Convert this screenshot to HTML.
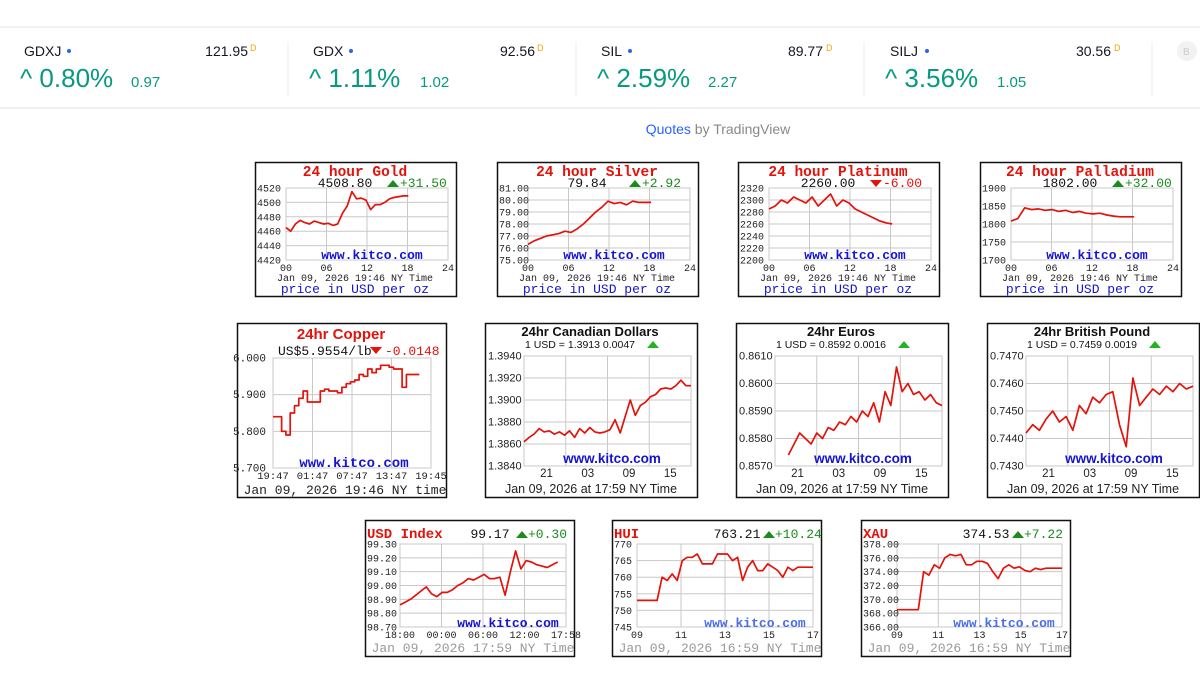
<!DOCTYPE html>
<html><head><meta charset="utf-8"><style>
html,body{margin:0;padding:0;background:#fff;width:1200px;height:675px;overflow:hidden}
svg{display:block}
</style></head><body>
<svg id="root" width="1200" height="675" viewBox="0 0 1200 675">
 <g font-family="Liberation Sans, sans-serif">
  <line x1="0" y1="27" x2="1200" y2="27" stroke="#e3e3e3"/>
  <line x1="0" y1="108" x2="1200" y2="108" stroke="#e3e3e3"/>
  <line x1="288" y1="42" x2="288" y2="96" stroke="#eee"/>
  <line x1="576" y1="42" x2="576" y2="96" stroke="#eee"/>
  <line x1="864" y1="42" x2="864" y2="96" stroke="#eee"/>
  <line x1="1152" y1="42" x2="1152" y2="96" stroke="#eee"/>
  <g><text x="24" y="56" font-size="14" fill="#131722">GDXJ</text><circle cx="69" cy="51" r="2" fill="#2962ff"/><text x="248" y="56" font-size="14" fill="#131722" text-anchor="end">121.95</text><text x="250" y="51" font-size="9" fill="#f7a600">D</text><text x="20" y="87" font-size="26" fill="#089981">^ 0.80%</text><text x="131" y="87" font-size="15" fill="#089981">0.97</text></g>
  <g><text x="313" y="56" font-size="14" fill="#131722">GDX</text><circle cx="351" cy="51" r="2" fill="#2962ff"/><text x="535" y="56" font-size="14" fill="#131722" text-anchor="end">92.56</text><text x="537" y="51" font-size="9" fill="#f7a600">D</text><text x="309" y="87" font-size="26" fill="#089981">^ 1.11%</text><text x="420" y="87" font-size="15" fill="#089981">1.02</text></g>
  <g><text x="601" y="56" font-size="14" fill="#131722">SIL</text><circle cx="630" cy="51" r="2" fill="#2962ff"/><text x="823" y="56" font-size="14" fill="#131722" text-anchor="end">89.77</text><text x="826" y="51" font-size="9" fill="#f7a600">D</text><text x="597" y="87" font-size="26" fill="#089981">^ 2.59%</text><text x="708" y="87" font-size="15" fill="#089981">2.27</text></g>
  <g><text x="890" y="56" font-size="14" fill="#131722">SILJ</text><circle cx="927" cy="51" r="2" fill="#2962ff"/><text x="1111" y="56" font-size="14" fill="#131722" text-anchor="end">30.56</text><text x="1114" y="51" font-size="9" fill="#f7a600">D</text><text x="885" y="87" font-size="26" fill="#089981">^ 3.56%</text><text x="997" y="87" font-size="15" fill="#089981">1.05</text></g>
  <circle cx="1187" cy="51" r="10" fill="#f2f2f2"/><text x="1183" y="55" font-size="10" fill="#ccc">B</text>
  <text x="718" y="134" font-size="14" text-anchor="middle"><tspan fill="#2962ff">Quotes</tspan><tspan fill="#888"> by TradingView</tspan></text>
 </g>
 <g id="charts"></g>
</svg>
<script>
const goldValues=[4465,4460,4470,4475,4472,4470,4474,4472,4470,4471,4468,4470,4485,4495,4515,4505,4506,4503,4490,4497,4497,4500,4505,4507,4508,4509,4509];
const silverValues=[76.3,76.6,76.8,77.0,77.1,77.2,77.4,77.3,77.6,78.0,78.5,79.0,79.4,79.9,79.7,79.8,79.6,79.9,79.8,79.8,79.8];
const platinumValues=[2285,2290,2300,2295,2305,2300,2295,2305,2290,2300,2310,2290,2300,2295,2285,2280,2275,2270,2265,2262,2260];
const palladiumValues=[1808,1815,1845,1840,1842,1838,1840,1835,1838,1832,1835,1830,1828,1830,1825,1822,1820,1820,1820];
const copperValues=[5.84,5.84,5.80,5.79,5.85,5.87,5.89,5.91,5.88,5.88,5.88,5.91,5.915,5.91,5.91,5.905,5.92,5.93,5.935,5.94,5.955,5.95,5.97,5.96,5.97,5.98,5.98,5.975,5.97,5.97,5.92,5.955,5.955,5.955,5.955];
const cadValues=[1.3862,1.3866,1.3869,1.3874,1.3871,1.3872,1.3869,1.3871,1.3868,1.3872,1.3866,1.3874,1.3870,1.3875,1.3871,1.3870,1.3871,1.3873,1.3882,1.3870,1.3885,1.3900,1.3886,1.3895,1.3898,1.3903,1.3905,1.3910,1.3911,1.3910,1.3913,1.3918,1.3913,1.3913];
const eurValues=[0.8574,0.8578,0.8582,0.8580,0.8578,0.8582,0.8580,0.8584,0.8583,0.8586,0.8585,0.8588,0.8586,0.8590,0.8588,0.8593,0.8586,0.8597,0.8592,0.8606,0.8597,0.8600,0.8596,0.8597,0.8594,0.8596,0.8593,0.8592];
const gbpValues=[0.7442,0.7445,0.7443,0.7447,0.7450,0.7446,0.7448,0.7443,0.7452,0.7449,0.7455,0.7453,0.7456,0.7457,0.7445,0.7437,0.7462,0.7452,0.7455,0.7458,0.7456,0.7459,0.7457,0.7460,0.7458,0.7459];
const usdValues=[98.86,98.88,98.90,98.93,98.96,98.99,98.94,98.92,98.95,98.95,98.97,99.00,99.02,99.05,99.04,99.06,99.08,99.05,99.05,99.06,98.93,99.10,99.25,99.12,99.18,99.17,99.15,99.14,99.13,99.15,99.17];
const huiValues=[753,753,753,753,753,760,759,761,759,765,766,766,767,764,764,764,767,767,767,765,766,759,763,765,762,762,764,763,762,760,763,762,763,763,763,763];
const xauValues=[368.5,368.5,368.5,368.5,368.5,374,373.5,375,374.5,376,376.5,376.3,376.5,375,375,375.5,375.5,375.2,374,373,374.5,375,374.5,374.7,374.2,374,374.5,374.3,374.5,374.5,374.5,374.5];
const goldTicks=[4420,4440,4460,4480,4500,4520];
const silverTicks=[75,76,77,78,79,80,81];
const platinumTicks=[2200,2220,2240,2260,2280,2300,2320];
const palladiumTicks=[1700,1750,1800,1850,1900];
const copperTicks=[5.7,5.8,5.9,6.0];
const cadTicks=[1.384,1.386,1.388,1.390,1.392,1.394];
const eurTicks=[0.857,0.858,0.859,0.860,0.861];
const gbpTicks=[0.743,0.744,0.745,0.746,0.747];
const usdTicks=[98.7,98.8,98.9,99.0,99.1,99.2,99.3];
const huiTicks=[745,750,755,760,765,770];
const xauTicks=[366,368,370,372,374,376,378];
const hourLabels=['00','06','12','18','24'];
const copperTimeLabels=['19:47','01:47','07:47','13:47','19:45'];
const fxHourLabels=['21','03','09','15'];
const usdTimeLabels=['18:00','00:00','06:00','12:00','17:58'];
const indexHourLabels=['09','11','13','15','17'];

const NS='http://www.w3.org/2000/svg';
const root=document.getElementById('charts');
function mk(parent,tag,attrs,text){const e=document.createElementNS(NS,tag);for(const k in attrs)e.setAttribute(k,attrs[k]);if(text!==undefined)e.textContent=text;parent.appendChild(e);return e;}
const MONO='Liberation Mono, monospace',SANS='Liberation Sans, sans-serif';

function chart(c){
  const g=mk(root,'g',{});
  
  
  const [bx,by,bw,bh]=c.box;const [l,t,r,b]=c.plot;
  mk(g,'rect',{x:bx+0.5,y:by+0.5,width:bw,height:bh,fill:'#fff',stroke:'#111','stroke-width':1.5});
  mk(g,'rect',{x:l,y:t,width:r-l,height:b-t,fill:'#fff',stroke:'#c8c8c8'});
  const ymin=c.ticks[0],ymax=c.ticks[c.ticks.length-1];
  const Y=v=>b-(v-ymin)/(ymax-ymin)*(b-t);
  const X=f=>l+f*(r-l);
  c.ticks.forEach(v=>{mk(g,'line',{x1:l,x2:r,y1:Y(v),y2:Y(v),stroke:'#c8c8c8'});
    const lab=mk(g,'text',{x:c.ylx,y:Y(v)+3.5,'font-family':c.yfont,'font-size':c.yfs,fill:'#222'},v.toFixed(c.dec));
    
    });
  for(let i=1;i<4;i++)mk(g,'line',{x1:X(i/4),x2:X(i/4),y1:t,y2:b,stroke:'#c8c8c8'});
  c.xlabels.forEach((s,i)=>{const lab=mk(g,'text',{x:X(c.xl0+i*c.xstep),y:c.xly,'font-family':c.yfont,'font-size':c.xfs,fill:'#222','text-anchor':'middle'},s);
    
    });
  const k=mk(g,'text',{x:c.kx,y:c.ky,'font-family':c.kfont,'font-size':c.kfs,'font-weight':'bold',fill:c.kcol,'text-anchor':'middle'},'www.kitco.com');
  
  
  const n=c.values.length;let d='';
  c.values.forEach((v,i)=>{const px=X(c.xs+(c.xe-c.xs)*i/(n-1)),py=Y(v);d+=(i?(c.step?'H'+px.toFixed(1)+'V':'L'+px.toFixed(1)+','):'M'+px.toFixed(1)+',')+py.toFixed(1);});
  const line=mk(g,'path',{d:d,fill:'none',stroke:'#e3120b','stroke-width':1.7,'stroke-linejoin':'round'});
  
  
  c.texts.forEach(tx=>{const e=mk(g,'text',{x:tx[0],y:tx[1],'font-family':tx[2],'font-size':tx[3],fill:tx[4],'font-weight':tx[5]||'normal','text-anchor':tx[6]||'start'},tx[7]);
    
    });
  (c.tris||[]).forEach(tr=>{const [x,y,up,col]=tr;const p=up?`M${x-6},${y} L${x},${y-7} L${x+6},${y}Z`:`M${x-6},${y-7} L${x},${y} L${x+6},${y-7}Z`;
    const e=mk(g,'path',{d:p,fill:col});
    
    });
}
function metal(dx,name,title,price,chg,up,values,ticks,dec,xe){
  const bx=255+dx;
  chart({name:name,box:[bx,162,201,134],plot:[bx+31,188,bx+193,260],ticks:ticks,dec:dec,values:values,xs:0,xe:xe,
    ylx:bx+2,yfont:MONO,yfs:10,xfs:10,xlabels:hourLabels,xl0:0,xstep:0.25,xly:271,
    kx:bx+117,ky:259,kfont:MONO,kfs:13,kcol:'#1414d2',
    texts:[[bx+100,176,MONO,14.5,'#e3120b','bold','middle',title,'chart-title'],[bx+90,187,MONO,13,'#111','normal','middle',price,'price-value'],
      [bx+145,187,MONO,13,up?'#1c8a1c':'#e3120b','normal','start',chg,'price-change'],[bx+100,281,MONO,10,'#222','normal','middle','Jan 09, 2026 19:46 NY Time','timestamp'],
      [bx+100,293,MONO,13,'#1414d2','normal','middle','price in USD per oz','units-label']],
    tris:[[bx+138,187,up,up?'#1c8a1c':'#e3120b']]});
}
metal(0,'gold-chart','24 hour Gold','4508.80','+31.50',true,goldValues,goldTicks,0,0.755);
metal(242,'silver-chart','24 hour Silver','79.84','+2.92',true,silverValues,silverTicks,2,0.76);
metal(483,'platinum-chart','24 hour Platinum','2260.00','-6.00',false,platinumValues,platinumTicks,0,0.76);
metal(725,'palladium-chart','24 hour Palladium','1802.00','+32.00',true,palladiumValues,palladiumTicks,0,0.76);

chart({name:'copper-chart',box:[237,323,209,174],plot:[273,358,431,468],ticks:copperTicks,dec:3,values:copperValues,xs:0,xe:0.926,step:true,
  ylx:233,yfont:MONO,yfs:11,xfs:10.5,xlabels:copperTimeLabels,xl0:0,xstep:0.25,xly:479,kx:354,ky:467,kfont:MONO,kfs:14,kcol:'#1414d2',
  texts:[[341,339,SANS,15,'#e3120b','bold','middle','24hr Copper','chart-title'],[278,355,MONO,13,'#111','normal','start','US$5.9554/lb','price-value'],
    [385,355,MONO,13,'#e3120b','normal','start','-0.0148','price-change'],[345,494,MONO,13,'#222','normal','middle','Jan 09, 2026 19:46 NY time','timestamp']],
  tris:[[376,354,false,'#e3120b']]});
function fx(dx,name,title,sub,values,ticks,xs){
  const bx=485+dx;
  chart({name:name,box:[bx,323,212,174],plot:[bx+39,356,bx+206,466],ticks:ticks,dec:4,values:values,xs:xs,xe:1,
    ylx:bx+3,yfont:SANS,yfs:11,xfs:11.5,xlabels:fxHourLabels,xl0:0.135,xstep:0.247,xly:477,kx:bx+127,ky:463,kfont:SANS,kfs:13.5,kcol:'#1414d2',
    texts:[[bx+105,336,SANS,13,'#111','bold','middle',title,'chart-title'],[bx+95,348,SANS,10.5,'#111','normal','middle',sub,'price-value'],
      [bx+106,493,SANS,12.5,'#222','normal','middle','Jan 09, 2026 at 17:59 NY Time','timestamp']],
    tris:[[bx+168,348,true,'#22b322']]});
}
fx(0,'cad-chart','24hr Canadian Dollars','1 USD = 1.3913  0.0047',cadValues,cadTicks,0);
fx(251,'eur-chart','24hr Euros','1 USD = 0.8592  0.0016',eurValues,eurTicks,0.08);
fx(502,'gbp-chart','24hr British Pound','1 USD = 0.7459  0.0019',gbpValues,gbpTicks,0);
function idx(bx,l,name,title,price,chg,values,ticks,dec,xlabels,xe,dateStr){
  chart({name:name,box:[bx,520,209,136],plot:[l,544,bx+201,627],ticks:ticks,dec:dec,values:values,xs:0,xe:xe,
    ylx:bx+2,yfont:MONO,yfs:10,xfs:10,xlabels:xlabels,xl0:0,xstep:0.25,xly:638,kx:bx+143,ky:627,kfont:MONO,kfs:13,kcol:name==='usd-index-chart'?'#1414d2':'#4b6ee8',
    texts:[[bx+2,538,MONO,14,'#e3120b','bold','start',title,'chart-title'],[bx+125,538,MONO,13,'#111','normal','middle',price,'price-value'],
      [bx+163,538,MONO,13,'#1c8a1c','normal','start',chg,'price-change'],[bx+108,652,MONO,13,'#999','normal','middle',dateStr,'timestamp']],
    tris:[[bx+157,538,true,'#1c8a1c']]});
}
idx(365,400,'usd-index-chart','USD Index','99.17','+0.30',usdValues,usdTicks,2,usdTimeLabels,0.95,'Jan 09, 2026 17:59 NY Time');
idx(612,637,'hui-chart','HUI','763.21','+10.24',huiValues,huiTicks,0,indexHourLabels,1,'Jan 09, 2026 16:59 NY Time');
idx(861,897,'xau-chart','XAU','374.53','+7.22',xauValues,xauTicks,2,indexHourLabels,1,'Jan 09, 2026 16:59 NY Time');
</script>
</body></html>
